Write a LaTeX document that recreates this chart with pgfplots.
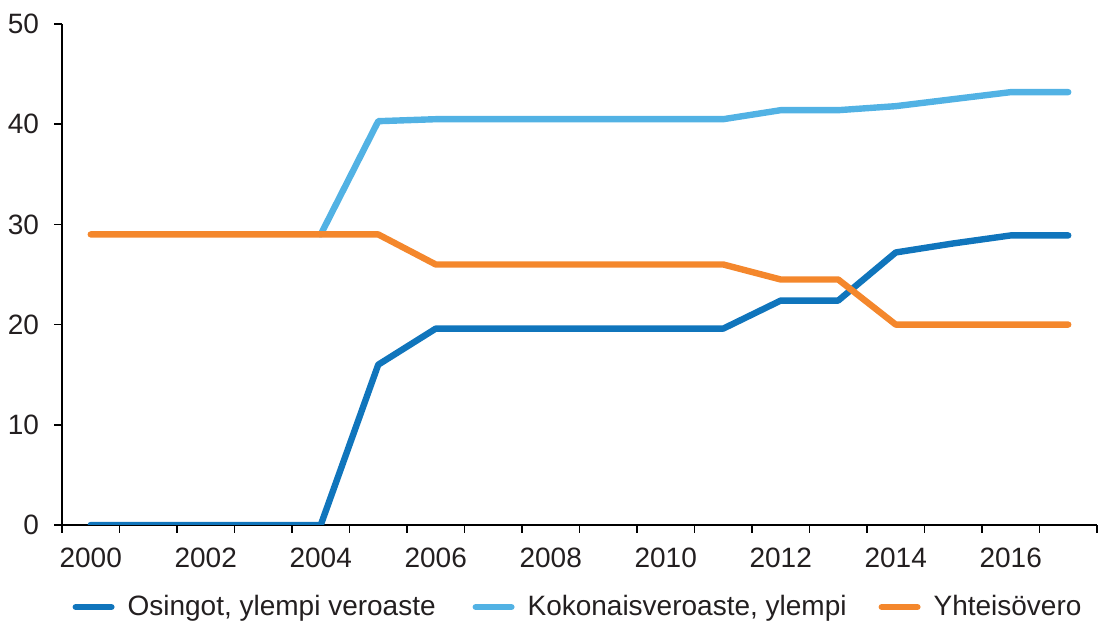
\documentclass[border=0pt]{standalone}
\usepackage{fontspec}
\setmainfont{Liberation Sans}
\usepackage{pgfplots}
\pgfplotsset{compat=1.18}
\definecolor{dblue}{RGB}{16,117,188}
\definecolor{lblue}{RGB}{82,178,228}
\definecolor{orng}{RGB}{244,135,44}
\definecolor{txtgray}{RGB}{35,31,32}
\begin{document}
\begin{tikzpicture}
\useasboundingbox (0,0) rectangle (549.5pt,310.5pt);
\begin{axis}[
  at={(31pt,48pt)}, anchor=south west,
  scale only axis, width=517.5pt, height=250.5pt,
  xmin=1999.5, xmax=2017.5, ymin=0, ymax=50,
  axis lines*=left,
  axis line style={line width=0.8pt, black},
  xtick={2000,2002,...,2016},
  minor xtick={1999.5,2000.5,...,2017.5},
  major x tick style={draw=none},
  minor x tick style={line width=0.8pt, black},
  ytick={0,10,...,50},
  y tick style={line width=0.8pt, black},
  tick align=outside,
  major tick length=4pt, minor tick length=4pt,
  x tick label style={/pgf/number format/1000 sep={}, yshift=-4pt},
  y tick label style={xshift=-4pt},
  ticklabel style={font=\fontsize{14}{16}\selectfont, text=txtgray},
  /pgf/number format/assume math mode=true,
  legend columns=3,
  legend style={at={(0.4976,-0.1637)}, anchor=center, draw=none, fill=none,
    inner sep=0pt, column sep=0pt,
    font=\fontsize{14}{16}\selectfont, text=txtgray,
    nodes={inner sep=0pt},
    /tikz/every even column/.style={column sep=0pt},
    /tikz/every odd column/.style={column sep=0pt}},
  legend image code/.code={\path[draw=none, fill=none] (0pt,-2pt) rectangle (27.5pt,2pt); \draw[#1, line cap=round] (1.6pt,0pt) -- (19.4pt,0pt);},
  every axis plot/.append style={line width=3.2pt, line cap=round, line join=round},
]
\addplot[dblue] coordinates {(2000,0) (2001,0) (2002,0) (2003,0) (2004,0) (2005,16) (2006,19.6) (2007,19.6) (2008,19.6) (2009,19.6) (2010,19.6) (2011,19.6) (2012,22.4) (2013,22.4) (2014,27.2) (2015,28.1) (2016,28.9) (2017,28.9)};
\addlegendentry{\makebox[172.5pt][l]{Osingot, ylempi veroaste}}
\addplot[lblue] coordinates {(2004,29) (2005,40.3) (2006,40.5) (2007,40.5) (2008,40.5) (2009,40.5) (2010,40.5) (2011,40.5) (2012,41.4) (2013,41.4) (2014,41.8) (2015,42.5) (2016,43.2) (2017,43.2)};
\addlegendentry{\makebox[175.5pt][l]{Kokonaisveroaste, ylempi}}
\addplot[orng] coordinates {(2000,29) (2001,29) (2002,29) (2003,29) (2004,29) (2005,29) (2006,26) (2007,26) (2008,26) (2009,26) (2010,26) (2011,26) (2012,24.5) (2013,24.5) (2014,20) (2015,20) (2016,20) (2017,20)};
\addlegendentry{Yhteisövero}
\end{axis}
\end{tikzpicture}
\end{document}
